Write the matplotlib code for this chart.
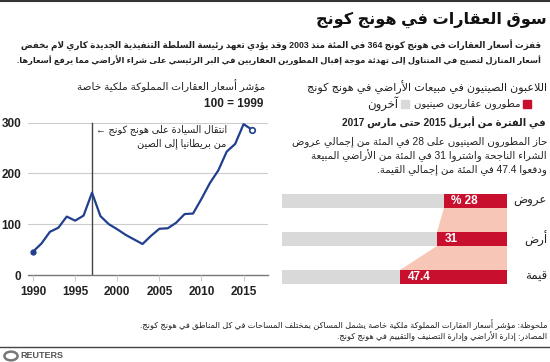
import re
import matplotlib
matplotlib.use('Agg')
import matplotlib.pyplot as plt
from matplotlib.patches import Rectangle, Polygon, Circle
from matplotlib.lines import Line2D

# Liberation Sans for latin/digits, DejaVu Sans supplies the Arabic glyphs
plt.rcParams['font.family'] = ['Liberation Sans', 'DejaVu Sans']

# --- data ---
years = [1990, 1991, 1992, 1993, 1994, 1995, 1996, 1997, 1998, 1999, 2000, 2001, 2002,
         2003, 2004, 2005, 2006, 2007, 2008, 2009, 2010, 2011, 2012, 2013, 2014, 2015, 2016]
index = [46, 62, 85, 93, 115, 107, 117, 162, 116, 100, 90, 79, 70,
         61, 77, 91, 92, 103, 120, 121, 150, 181, 206, 243, 258, 297, 286]
handover_year = 1997

bar_labels = ['عروض', 'أرض', 'قيمة']
chinese_share = [28, 31, 47.4]
share_text = ['28 %', '31', '47.4']

# --- simple Arabic shaping + right-to-left ordering ---
FORMS = {
    'ء': (0xFE80, 1), 'آ': (0xFE81, 2), 'أ': (0xFE83, 2), 'ؤ': (0xFE85, 2), 'إ': (0xFE87, 2),
    'ئ': (0xFE89, 4), 'ا': (0xFE8D, 2), 'ب': (0xFE8F, 4), 'ة': (0xFE93, 2), 'ت': (0xFE95, 4),
    'ث': (0xFE99, 4), 'ج': (0xFE9D, 4), 'ح': (0xFEA1, 4), 'خ': (0xFEA5, 4), 'د': (0xFEA9, 2),
    'ذ': (0xFEAB, 2), 'ر': (0xFEAD, 2), 'ز': (0xFEAF, 2), 'س': (0xFEB1, 4), 'ش': (0xFEB5, 4),
    'ص': (0xFEB9, 4), 'ض': (0xFEBD, 4), 'ط': (0xFEC1, 4), 'ظ': (0xFEC5, 4), 'ع': (0xFEC9, 4),
    'غ': (0xFECD, 4), 'ف': (0xFED1, 4), 'ق': (0xFED5, 4), 'ك': (0xFED9, 4), 'ل': (0xFEDD, 4),
    'م': (0xFEE1, 4), 'ن': (0xFEE5, 4), 'ه': (0xFEE9, 4), 'و': (0xFEED, 2), 'ى': (0xFEEF, 2),
    'ي': (0xFEF1, 4),
}
LAM_ALEF = {'آ': 0xFEF5, 'أ': 0xFEF7, 'إ': 0xFEF9, 'ا': 0xFEFB}


def shape(s):
    out = []
    i = 0
    while i < len(s):
        c = s[i]
        if c not in FORMS:
            out.append(c)
            i += 1
            continue
        prev = s[i - 1] if i > 0 else ''
        joins_prev = prev in FORMS and FORMS[prev][1] == 4
        if c == 'ل' and i + 1 < len(s) and s[i + 1] in LAM_ALEF:
            out.append(chr(LAM_ALEF[s[i + 1]] + (1 if joins_prev else 0)))
            i += 2
            continue
        nxt = s[i + 1] if i + 1 < len(s) else ''
        base, k = FORMS[c]
        joins_next = k == 4 and nxt in FORMS and FORMS[nxt][1] > 1
        if k == 1:
            form = 0
        elif joins_prev and joins_next:
            form = 3
        elif joins_prev:
            form = 1
        elif joins_next:
            form = 2
        else:
            form = 0
        out.append(chr(base + form))
        i += 1
    return ''.join(out)


def rtl(s):
    lines = []
    for line in s.split('\n'):
        runs = re.findall(r'\d+(?:[.,]\d+)*|[A-Za-z]+|[^\dA-Za-z]+', shape(line))
        runs = [r if re.match(r'[\dA-Za-z]', r) else r[::-1] for r in runs]
        lines.append(''.join(runs[::-1]))
    return '\n'.join(lines)


W, H = 550, 362
fig = plt.figure(figsize=(5.5, 3.62), dpi=100)
renderer = fig.canvas.get_renderer()


def fx(px):
    return px / W


def fy(py):
    return 1 - py / H


def fit(t, width):
    # scale the font so the text spans about `width` pixels, as in the reference
    w = t.get_window_extent(renderer).width
    t.set_fontsize(t.get_fontsize() * width / w)
    return t


def ftext(px, py, s, width=None, **kw):
    kw.setdefault('ha', 'right')
    kw.setdefault('va', 'center')
    kw.setdefault('color', '#222222')
    t = fig.text(fx(px), fy(py), rtl(s), **kw)
    if width:
        fit(t, width)
    return t


def same_size(texts):
    size = sum(t.get_fontsize() for t in texts) / len(texts)
    for t in texts:
        t.set_fontsize(size)


# top rule
fig.add_artist(Line2D([0, 1], [fy(1), fy(1)], color='#333333', lw=1.5))

ftext(547, 20, 'سوق العقارات في هونج كونج', width=232, fontsize=14, fontweight='bold', color='#111111')
ftext(541, 45, 'قفزت أسعار العقارات في هونج كونج 364 في المئة منذ 2003 وقد يؤدي تعهد رئيسة السلطة التنفيذية الجديدة كاري لام بخفض',
      width=526, fontsize=7, fontweight='bold')
ftext(541, 60, 'أسعار المنازل لتصبح في المتناول إلى تهدئة موجة إقبال المطورين العقاريين في البر الرئيسي على شراء الأراضي مما يرفع أسعارها.',
      width=530, fontsize=7, fontweight='bold')

# --- left: price index line chart ---
ftext(265, 86, 'مؤشر أسعار العقارات المملوكة ملكية خاصة', width=187, fontsize=7.6)
ftext(263, 104, '1999 = 100', fontsize=8.5, fontweight='bold')

ax = fig.add_axes([fx(28), fy(275), fx(268) - fx(28), fy(115) - fy(275)])
ax.set_xlim(1989.4, 2017.9)
ax.set_ylim(0, 315)
for v in [100, 200, 300]:
    ax.axhline(v, color='#cccccc', lw=0.8, zorder=0)
ax.axhline(0, color='#777777', lw=1.0, zorder=1, clip_on=False)
ax.plot([handover_year, handover_year], [0, 300], color='#444444', lw=1.0, zorder=2)
ax.plot(years, index, color='#213f8f', lw=1.6, zorder=3)
ax.plot(years[0], index[0], 'o', color='#213f8f', ms=3.5, zorder=4)
ax.plot(years[-1], index[-1], 'o', mfc='white', mec='#213f8f', mew=1.2, ms=4, zorder=4)
for s in ax.spines.values():
    s.set_visible(False)
ax.set_yticks([0, 100, 200, 300])
ax.set_xticks([1990, 1995, 2000, 2005, 2010, 2015])
ax.tick_params(axis='y', length=0, pad=5, labelsize=8.5, labelcolor='#222222')
ax.tick_params(axis='x', length=4, width=0.8, color='#cccccc', pad=4, labelsize=8.5, labelcolor='#222222')
for lab in ax.get_xticklabels() + ax.get_yticklabels():
    lab.set_fontweight('bold')
note = ax.text(2013.0, 297, rtl('انتقال السيادة على هونج كونج ←\nمن بريطانيا إلى الصين'),
               ha='right', va='top', fontsize=7.2, color='#222222', linespacing=1.45)
fit(note, 132)

# --- right: Chinese share of land sales ---
ftext(547, 87, 'اللاعبون الصينيون في مبيعات الأراضي في هونج كونج', width=237, fontsize=7.6)
fig.add_artist(Rectangle((fx(523), fy(108)), fx(8), fy(100) - fy(108), color='#c8102e'))
ftext(520, 104, 'مطورون عقاريون صينيون', width=107, fontsize=7.6)
fig.add_artist(Rectangle((fx(401), fy(108)), fx(8), fy(100) - fy(108), color='#d9d9d9'))
ftext(398, 104, 'آخرون', width=31, fontsize=7.6)
ftext(546, 123, 'في الفترة من أبريل 2015 حتى مارس 2017', width=203, fontsize=8.2, fontweight='bold')
para = ['حاز المطورون الصينيون على 28 في المئة من إجمالي عروض',
        'الشراء الناجحة واشتروا 31 في المئة من الأراضي المبيعة',
        'ودفعوا 47.4 في المئة من إجمالي القيمة.']
para_width = [234, 234, 180]
para_txt = [ftext(547, 142 + 14 * k, line, width=para_width[k], fontsize=7.6)
            for k, line in enumerate(para)]
same_size(para_txt)

bx = fig.add_axes([fx(282), fy(288), fx(507) - fx(282), fy(190) - fy(288)])
bx.set_xlim(0, 100)
bx.set_ylim(2.3, -0.3)
bx.axis('off')
h = 0.37
ypos = list(range(len(chinese_share)))
bx.barh(ypos, [100] * len(ypos), height=h, color='#d9d9d9', zorder=2)
bx.barh(ypos, chinese_share, left=[100 - p for p in chinese_share], height=h, color='#c8102e', zorder=3)
for k in range(len(ypos) - 1):
    p1, p2 = chinese_share[k], chinese_share[k + 1]
    poly = Polygon([(100 - p1, ypos[k] + h / 2), (100, ypos[k] + h / 2),
                    (100, ypos[k + 1] - h / 2), (100 - p2, ypos[k + 1] - h / 2)],
                   closed=True, color='#f8c6b6', lw=0, zorder=1)
    bx.add_patch(poly)
for k, (p, t) in enumerate(zip(chinese_share, share_text)):
    bx.text(100 - p + 3.3, ypos[k], rtl(t), ha='left', va='center', color='white',
            fontsize=8.5, fontweight='bold', zorder=4)
bar_centers = [201, 238.7, 276.5]
for lab, cy in zip(bar_labels, bar_centers):
    ftext(547, cy, lab, fontsize=8.5)

# --- footer ---
foot = [ftext(547, 325, 'ملحوظة: مؤشر أسعار العقارات المملوكة ملكية خاصة يشمل المساكن بمختلف المساحات في كل المناطق في هونج كونج.',
              width=409, fontsize=6.4),
        ftext(547, 337, 'المصادر: إدارة الأراضي وإدارة التصنيف والتقييم في هونج كونج.', width=214, fontsize=6.4)]
same_size(foot)
fig.add_artist(Line2D([0, 1], [fy(347), fy(347)], color='#444444', lw=1.0))
fig.add_artist(Circle((fx(11), fy(356)), 0.012, transform=fig.transFigure, fc='none', ec='#777777', lw=1.8))
fig.text(fx(20), fy(356), 'REUTERS', ha='left', va='center', fontsize=6.5, fontweight='bold', color='#555555')

fig.savefig('out.png', dpi=100)
